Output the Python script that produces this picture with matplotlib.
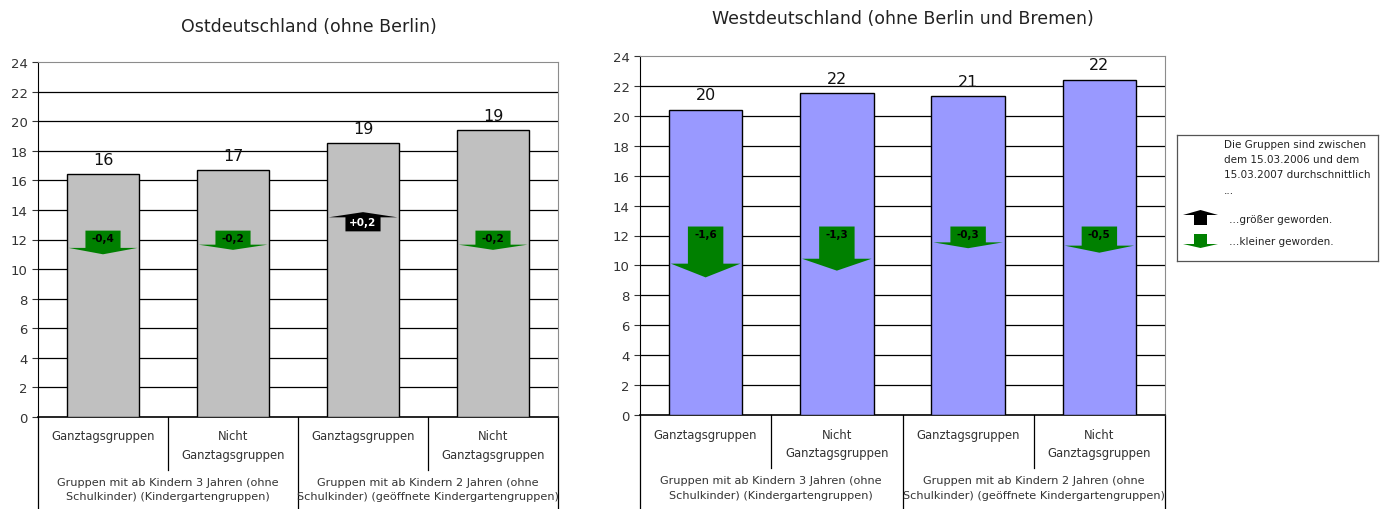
import numpy as np
import matplotlib
matplotlib.use("Agg")
import matplotlib.pyplot as plt
from matplotlib.patches import Polygon

plt.rcParams['font.family'] = ['DejaVu Sans']

# Daten
kategorien = ["Ganztagsgruppen", "Nicht\nGanztagsgruppen",
              "Ganztagsgruppen", "Nicht\nGanztagsgruppen"]
gruppen = ["Gruppen mit ab Kindern 3 Jahren (ohne\nSchulkinder) (Kindergartengruppen)",
           "Gruppen mit ab Kindern 2 Jahren (ohne\nSchulkinder) (geöffnete Kindergartengruppen)"]

ost_werte = [16.4, 16.7, 18.5, 19.4]
ost_labels = ["16", "17", "19", "19"]
ost_diff = [-0.4, -0.2, 0.2, -0.2]

west_werte = [20.4, 21.5, 21.3, 22.4]
west_labels = ["20", "22", "21", "22"]
west_diff = [-1.6, -1.3, -0.3, -0.5]

GRUEN = "#008000"


def pfeil(ax, x, d):
    # Pfeil-Länge hängt von der Veränderung ab
    laenge = 1.0 + 1.5 * abs(d)
    kopf = 0.27 * laenge
    sw, hw = 0.27, 0.53
    if d < 0:
        top = 12.6
        base = top - laenge + kopf
        tip = top - laenge
        pts = [(x - sw/2, top), (x + sw/2, top), (x + sw/2, base), (x + hw/2, base),
               (x, tip), (x - hw/2, base), (x - sw/2, base)]
        farbe, tcol, ty = GRUEN, "black", 12.1
    else:
        bot = 12.55
        tip = bot + laenge
        base = tip - kopf
        pts = [(x - sw/2, bot), (x + sw/2, bot), (x + sw/2, base), (x + hw/2, base),
               (x, tip), (x - hw/2, base), (x - sw/2, base)]
        farbe, tcol, ty = "black", "white", 13.15
    ax.add_patch(Polygon(pts, closed=True, facecolor=farbe, edgecolor="none", zorder=5))
    txt = f"{d:+.1f}".replace(".", ",")
    ax.text(x, ty, txt, ha="center", va="center", fontsize=7.5, fontweight="bold",
            color=tcol, zorder=6)


def panel(ax, werte, labels, diffs, farbe, titel, pad):
    x = np.arange(len(werte))
    ax.bar(x, werte, width=0.56, color=farbe, edgecolor="black", linewidth=1, zorder=3)
    ax.set_xlim(-0.5, 3.5)
    ax.set_ylim(0, 24)
    ax.set_yticks(np.arange(0, 25, 2))
    ax.tick_params(axis="y", direction="out", length=4, labelsize=9.5, colors="#333333")
    ax.set_xticks([])
    for y in range(2, 24, 2):
        ax.axhline(y, color="black", lw=0.9, zorder=1)
    for s in ["top", "right"]:
        ax.spines[s].set_color("#8c8c8c")
    ax.spines["left"].set_color("black")
    ax.spines["bottom"].set_color("black")
    ax.spines["bottom"].set_linewidth(1.2)
    for xi, w, lab in zip(x, werte, labels):
        ax.text(xi, w + 0.5, lab, ha="center", va="bottom", fontsize=11.5, color="#111111")
    for xi, d in zip(x, diffs):
        pfeil(ax, xi, d)

    tr = ax.get_xaxis_transform()
    for xi, k in zip(x, kategorien):
        ax.text(xi, -0.035, k, transform=tr, ha="center", va="top", fontsize=8.4,
                color="#333333", linespacing=1.55)
    for xi, g in zip([0.5, 2.5], gruppen):
        ax.text(xi, -0.168, g, transform=tr, ha="center", va="top", fontsize=8.1,
                color="#333333", linespacing=1.6)
    for xs in [0.5, 2.5]:
        ax.plot([xs, xs], [0, -0.148], transform=tr, color="black", lw=0.9, clip_on=False)
    for xs in [-0.5, 1.5, 3.5]:
        ax.plot([xs, xs], [0, -0.3], transform=tr, color="black", lw=0.9, clip_on=False)
    ax.set_title(titel, fontsize=12.5, color="#222222", pad=pad)


fig = plt.figure(figsize=(13.81, 5.10), dpi=100)
ax1 = fig.add_axes([38/1381, 1 - 418/510, 520/1381, 355/510])
ax2 = fig.add_axes([640/1381, 1 - 416/510, 525/1381, 359/510])

panel(ax1, ost_werte, ost_labels, ost_diff, "#c0c0c0", "Ostdeutschland (ohne Berlin)", 22)
panel(ax2, west_werte, west_labels, west_diff, "#9999ff", "Westdeutschland (ohne Berlin und Bremen)", 24)
ax1.title.set_position((0.52, 1))

# Legende
lg = fig.add_axes([1177/1381, 1 - 262/510, 201/1381, 126/510])
lg.set_xlim(0, 201)
lg.set_ylim(126, 0)
lg.set_xticks([])
lg.set_yticks([])
for s in lg.spines.values():
    s.set_color("#555555")
    s.set_linewidth(0.9)
lg.text(47, 4, "Die Gruppen sind zwischen\ndem 15.03.2006 und dem\n15.03.2007 durchschnittlich\n...",
        ha="left", va="top", fontsize=7.5, color="#222222", linespacing=1.65)
lg.add_patch(Polygon([(17, 90), (17, 80), (6, 80), (23.5, 75), (41, 80), (30, 80), (30, 90)],
                     closed=True, facecolor="black", edgecolor="none"))
lg.add_patch(Polygon([(17, 99), (30, 99), (30, 109), (41, 109), (23.5, 113), (6, 109), (17, 109)],
                     closed=True, facecolor=GRUEN, edgecolor="none"))
lg.text(52, 84, "…größer geworden.", ha="left", va="center", fontsize=7.5, color="#222222")
lg.text(52, 106, "…kleiner geworden.", ha="left", va="center", fontsize=7.5, color="#222222")

fig.savefig("out.png", dpi=100)
